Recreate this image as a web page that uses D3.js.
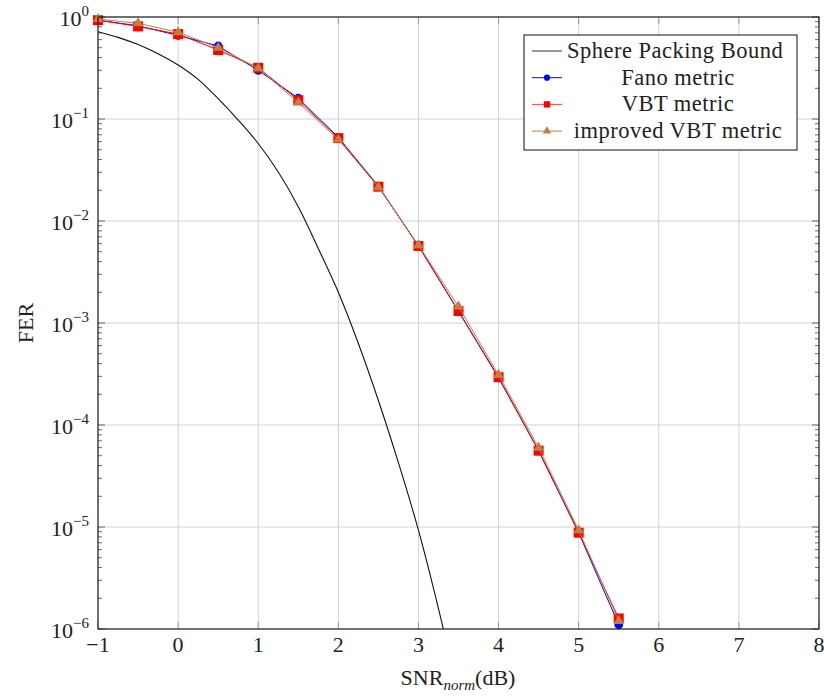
<!DOCTYPE html>
<html><head><meta charset="utf-8">
<script src="https://cdn.jsdelivr.net/npm/d3@7"></script>
<style>body{margin:0;background:#fff}svg text{font-family:"Liberation Serif","DejaVu Serif",serif;fill:#222}</style>
</head><body><svg id="c" width="824" height="696"></svg>
<script>
const snr = [-1,-0.5,0,0.5,1,1.5,2,2.5,3,3.5,4,4.5,5,5.5];
const fano = [0.93,0.82,0.66,0.52,0.30,0.16,0.066,0.022,0.0057,0.0013,0.00029,5.6e-5,8.8e-6,1.1e-6];
const vbt = [0.93,0.81,0.68,0.475,0.318,0.153,0.065,0.0217,0.0057,0.00131,0.000294,5.6e-5,8.8e-6,1.27e-6];
const ivbt = [0.955,0.867,0.71,0.50,0.314,0.145,0.063,0.0215,0.0058,0.00145,0.00031,6.0e-5,9.3e-6,1.2e-6];
const sphX = [-1,-0.75,-0.5,-0.25,0,0.25,0.5,0.75,1,1.25,1.5,1.75,2,2.25,2.5,2.75,3,3.25,3.5];
const sphY = [0.718,0.631,0.537,0.437,0.339,0.245,0.158,0.0977,0.0575,0.0302,0.0138,0.00537,0.0020,0.00063,0.000174,4.27e-5,9.3e-6,1.58e-6,2.24e-7];
const xTicks = [-1,0,1,2,3,4,5,6,7,8];
const yExps = [0,-1,-2,-3,-4,-5,-6];
const legendLabels = ["Sphere Packing Bound","Fano metric","VBT metric","improved VBT metric"];

const L=98,R=819,T=17,B=629;
const svg=d3.select("#c");
const x=d3.scaleLinear().domain([-1,8]).range([L,R]);
const y=d3.scaleLog().domain([1e-6,1]).range([B,T]);

// grid
const g=svg.append("g");
g.selectAll(".gx").data(xTicks).join("line").attr("x1",d=>x(d)).attr("x2",d=>x(d)).attr("y1",T).attr("y2",B).attr("stroke","#d2d2d2").attr("stroke-width",1);
g.selectAll(".gy").data(yExps).join("line").attr("y1",d=>y(Math.pow(10,d))).attr("y2",d=>y(Math.pow(10,d))).attr("x1",L).attr("x2",R).attr("stroke","#d2d2d2").attr("stroke-width",1);

// ticks
const minor=[];
for(let e=-6;e<0;e++) for(let m=2;m<=9;m++) minor.push(m*Math.pow(10,e));
svg.append("g").selectAll("line").data(minor).join("line").attr("x1",L).attr("x2",L+4).attr("y1",d=>y(d)).attr("y2",d=>y(d)).attr("stroke","#444").attr("stroke-width",0.8);
svg.append("g").selectAll("line").data(minor).join("line").attr("x1",R).attr("x2",R-4).attr("y1",d=>y(d)).attr("y2",d=>y(d)).attr("stroke","#444").attr("stroke-width",0.8);
svg.append("g").selectAll("line").data(yExps).join("line").attr("x1",L).attr("x2",L+7).attr("y1",d=>y(Math.pow(10,d))).attr("y2",d=>y(Math.pow(10,d))).attr("stroke","#444").attr("stroke-width",0.8);
svg.append("g").selectAll("line").data(yExps).join("line").attr("x1",R).attr("x2",R-7).attr("y1",d=>y(Math.pow(10,d))).attr("y2",d=>y(Math.pow(10,d))).attr("stroke","#444").attr("stroke-width",0.8);
svg.append("g").selectAll("line").data(xTicks).join("line").attr("x1",d=>x(d)).attr("x2",d=>x(d)).attr("y1",B).attr("y2",B-7).attr("stroke","#888").attr("stroke-width",0.8);
svg.append("g").selectAll("line").data(xTicks).join("line").attr("x1",d=>x(d)).attr("x2",d=>x(d)).attr("y1",T).attr("y2",T+7).attr("stroke","#888").attr("stroke-width",0.8);

// clip
svg.append("clipPath").attr("id","clip").append("rect").attr("x",L).attr("y",T).attr("width",R-L).attr("height",B-T);
const plot=svg.append("g").attr("clip-path","url(#clip)");

const line=d3.line().x(d=>x(d[0])).y(d=>y(d[1]));
const sline=d3.line().x(d=>x(d[0])).y(d=>y(d[1])).curve(d3.curveCatmullRom);
plot.append("path").datum(sphX.map((v,i)=>[v,sphY[i]])).attr("d",sline).attr("fill","none").attr("stroke","#111").attr("stroke-width",1.1);

const series=[{v:fano,c:"#0000ff",m:"circle"},{v:vbt,c:"#ff0000",m:"square"},{v:ivbt,c:"#bf8040",m:"triangle"}];
const sym={circle:d3.symbol(d3.symbolCircle,60)(),square:d3.symbol(d3.symbolSquare,100)(),triangle:d3.symbol(d3.symbolTriangle,48)()};
const mk=svg.append("g");
series.forEach(s=>{
  const pts=snr.map((v,i)=>[v,s.v[i]]);
  mk.append("path").datum(pts).attr("d",line).attr("fill","none").attr("stroke",s.c).attr("stroke-width",1);
  mk.append("g").selectAll("path").data(pts).join("path").attr("d",sym[s.m]).attr("transform",d=>`translate(${x(d[0])},${y(d[1])})`).attr("fill",s.c);
});

// frame
svg.append("rect").attr("x",L).attr("y",T).attr("width",R-L).attr("height",B-T).attr("fill","none").attr("stroke","#111").attr("stroke-width",1.1);

// tick labels
svg.append("g").selectAll("text").data(xTicks).join("text").attr("x",d=>x(d)).attr("y",B+23).attr("text-anchor","middle").attr("font-size",22).text(d=>d<0?"\u2212"+(-d):d);
const yl=svg.append("g").selectAll("text").data(yExps).join("text").attr("x",89).attr("y",d=>y(Math.pow(10,d))+9).attr("text-anchor","end").attr("font-size",22);
yl.append("tspan").text("10");
yl.append("tspan").attr("font-size",15).attr("dy",-10).text(d=>d===0?"0":"\u2212"+(-d));

// axis labels
const xl=svg.append("text").attr("x",458).attr("y",685).attr("text-anchor","middle").attr("font-size",22);
xl.append("tspan").text("SNR");
xl.append("tspan").attr("font-size",15).attr("font-style","italic").attr("dy",5).text("norm");
xl.append("tspan").attr("dy",-5).text("(dB)");
svg.append("text").attr("transform","translate(33,323) rotate(-90)").attr("text-anchor","middle").attr("font-size",22).text("FER");

// legend
const lg=svg.append("g");
lg.append("rect").attr("x",524).attr("y",35).attr("width",273).attr("height",115).attr("fill","#fff").attr("stroke","#111").attr("stroke-width",1);
const lc=["#333","#0000ff","#ff4040","#bf8040"];
const lm=[null,"circle","square","triangle"];
const lmc=[null,"#0000ff","#ff0000","#bf8040"];
legendLabels.forEach((t,i)=>{
  const yy=51+i*26.7;
  lg.append("line").attr("x1",532).attr("x2",562).attr("y1",yy).attr("y2",yy).attr("stroke",lc[i]).attr("stroke-width",1);
  if(lm[i]) lg.append("path").attr("d",d3.symbol(lm[i]==="circle"?d3.symbolCircle:lm[i]==="square"?d3.symbolSquare:d3.symbolTriangle,lm[i]==="square"?40:30)()).attr("transform",`translate(547,${yy})`).attr("fill",lmc[i]);
  lg.append("text").attr("x",i===0?567:678).attr("y",yy+7).attr("text-anchor",i===0?"start":"middle").attr("font-size",22.5).attr("letter-spacing",0.5).text(t);
});
</script></body></html>
